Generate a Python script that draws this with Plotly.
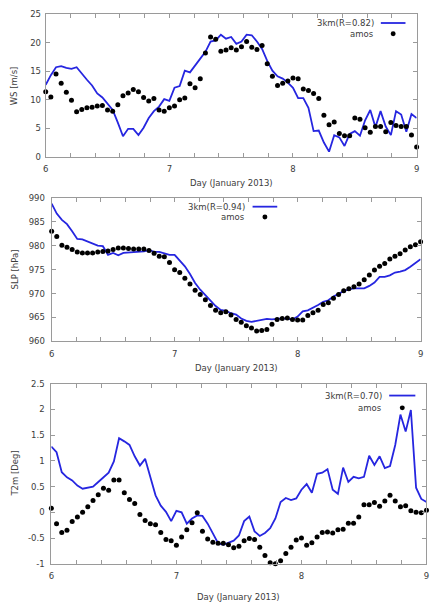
import plotly.graph_objects as go

# ---------------- data (hourly, 6 Jan 00h .. 9 Jan 00h 2013) ----------------
hours = list(range(73))
day = [6 + h / 24 for h in hours]

ws_model = [12.6, 14.3, 15.7, 15.9, 15.6, 15.4, 15.7, 14.5, 13.5, 12.5, 11.1, 10.4, 9.2, 8.2, 6.0, 3.6,
            4.9, 4.9, 3.8, 5.1, 6.8, 8.0, 8.8, 10.1, 9.8,
            12.1, 12.4, 15.1, 14.8, 15.9, 17.2, 18.4, 20.2, 20.4, 21.4, 20.7, 21.0, 19.8, 20.2, 21.4,
            21.3, 20.2, 18.9, 16.8, 15.1, 14.1, 13.7, 13.0, 12.1,
            10.3, 10.3, 8.6, 4.5, 4.6, 2.5, 0.9, 3.8, 3.4, 1.9, 4.0, 4.5, 3.7, 6.4, 8.2, 5.2, 8.0,
            5.3, 3.8, 8.0, 7.4, 4.4, 7.5, 6.8]
ws_obs = [11.4, 10.5, 14.5, 12.9, 11.3, 9.9, 7.9, 8.3, 8.6, 8.7, 8.9, 9.0, 8.2, 8.0, 9.1, 10.7,
          11.2, 11.8, 11.4, 10.4, 9.8, 10.2, 8.2, 8.0, 8.6,
          8.9, 10.0, 10.3, 12.8, 12.1, 13.7, 18.2, 21.0, 20.6, 18.5, 18.7, 19.1, 18.7, 19.3, 20.2,
          19.2, 18.8, 19.5, 16.3, 14.1, 12.5, 12.9, 13.3, 13.8,
          13.7, 11.9, 11.6, 11.1, 10.2, 7.3, 5.6, 6.1, 4.1, 3.7, 3.7, 6.8, 6.6, 5.1, 4.3, 5.3, 5.3,
          4.4, 6.0, 5.5, 5.3, 5.3, 3.8, 1.7]

slp_model = [988.8, 986.7, 985.4, 984.5, 983.0, 981.4, 981.3, 980.9, 980.4, 980.0, 979.9, 978.1,
             978.5, 978.0, 978.5, 978.6, 978.7, 978.8, 978.8, 979.1, 978.7, 978.7, 978.4, 978.1, 978.1,
             977.0, 975.7, 974.1, 972.2, 970.8, 969.6, 968.4, 967.4, 966.6, 966.4, 965.9, 965.6,
             964.8, 964.3, 964.1, 964.3, 964.6, 964.7, 964.6, 964.7, 964.8, 964.7, 964.6, 965.2,
             966.3, 966.5, 967.0, 967.6, 968.3, 968.6, 969.4, 970.0, 970.5, 970.9, 971.1, 971.1,
             971.1, 971.6, 972.3, 973.5, 973.5, 973.8, 974.4, 974.6, 974.9, 975.6, 976.5, 977.2]
slp_obs = [983.0, 981.9, 980.1, 979.7, 979.2, 978.7, 978.5, 978.5, 978.5, 978.7, 978.8, 978.9,
           979.2, 979.5, 979.5, 979.4, 979.3, 979.3, 979.3, 979.0, 978.4, 977.8, 977.7, 976.5, 975.0,
           974.4, 973.2, 972.0, 970.7, 969.8, 968.7, 967.5, 966.5, 966.0, 966.2, 965.5, 964.6,
           964.0, 963.3, 962.8, 962.2, 962.3, 962.5, 963.6, 964.6, 964.8, 964.9, 964.6, 964.5,
           964.5, 965.4, 966.0, 966.5, 967.7, 968.1, 969.0, 969.8, 970.6, 971.0, 971.4, 972.0,
           972.9, 973.9, 974.9, 975.7, 976.3, 977.2, 977.8, 978.3, 979.1, 979.8, 980.2, 980.8]

t2m_model = [1.28, 1.17, 0.78, 0.68, 0.62, 0.52, 0.46, 0.48, 0.50, 0.59, 0.68, 0.77, 0.99, 1.44,
             1.38, 1.31, 1.09, 0.91, 1.04, 0.68, 0.33, 0.13, 0.01, -0.17, 0.03,
             0.00, -0.22, -0.12, -0.06, -0.07, -0.22, -0.41, -0.60, -0.63, -0.59, -0.55, -0.45,
             -0.17, -0.08, -0.37, -0.46, -0.40, -0.31, -0.12, 0.20, 0.28, 0.24, 0.27, 0.44,
             0.55, 0.38, 0.75, 0.77, 0.84, 0.44, 0.36, 0.87, 0.59, 0.69, 0.66, 0.69, 1.10, 0.92,
             1.09, 0.86, 0.90, 1.31, 1.90, 1.57, 1.99, 0.48, 0.26, 0.20]
t2m_obs = [0.08, -0.22, -0.39, -0.35, -0.18, -0.09, 0.00, 0.11, 0.23, 0.34, 0.47, 0.43, 0.63,
           0.63, 0.38, 0.25, 0.17, -0.04, -0.16, -0.22, -0.24, -0.39, -0.53, -0.55, -0.64,
           -0.48, -0.34, -0.20, -0.01, -0.37, -0.52, -0.58, -0.60, -0.60, -0.63, -0.69, -0.66,
           -0.55, -0.51, -0.53, -0.68, -0.84, -0.98, -1.00, -0.94, -0.80, -0.68, -0.54, -0.50,
           -0.64, -0.59, -0.48, -0.39, -0.38, -0.40, -0.34, -0.33, -0.21, -0.21, -0.09, 0.15,
           0.15, 0.19, 0.12, 0.22, 0.33, 0.22, 0.11, 0.13, 0.03, 0.00, -0.01, 0.04]

x_tick_vals = [6, 6.2, 6.4, 6.6, 6.8, 7, 7.2, 7.4, 7.6, 7.8, 8, 8.2, 8.4, 8.6, 8.8, 9]
x_tick_text = ["6", "", "", "", "", "7", "", "", "", "", "8", "", "", "", "", "9"]

ws_ticks = [0, 5, 10, 15, 20, 25]
ws_tick_text = ["0", "5", "10", "15", "20", "25"]
slp_ticks = [960, 965, 970, 975, 980, 985, 990]
slp_tick_text = ["960", "965", "970", "975", "980", "985", "990"]
t2m_ticks = [-1, -0.5, 0, 0.5, 1, 1.5, 2, 2.5]
t2m_tick_text = ["-1", "-0.5", "0", "0.5", "1", "1.5", "2", "2.5"]

legend_model = ["3km(R=0.82)", "3km(R=0.94)", "3km(R=0.70)"]
legend_obs = "amos"
y_titles = ["WS [m/s]", "SLP [hPa]", "T2m [Deg]"]
x_title = "Day (January 2013)"

# ---------------- styling / layout ----------------
W, H = 444, 616
def px(x):
    return x / W
def py(y):
    return 1 - y / H

LINE_COLOR = "#2626e0"
FRAME = "#9a9a9a"
TXT = "#3c3c3c"
FONT = "DejaVu Sans"
FS = 8.5

# pixel boxes of the three panels: (left, right, top, bottom)
boxes = [(43.3, 419.3, 9.3, 154.3), (49.3, 423.3, 196.0, 342.0), (49.0, 429.3, 385.0, 568.0)]
yranges = [[0, 25], [960, 990], [-1, 2.5]]
yticks = [(ws_ticks, ws_tick_text), (slp_ticks, slp_tick_text), (t2m_ticks, t2m_tick_text)]
series = [(ws_model, ws_obs), (slp_model, slp_obs), (t2m_model, t2m_obs)]
# legend geometry: (text right x, row1 y, row2 y, sample x0, sample x1)
legends = [(378, 18.3, 29.3, 383, 408), (247.5, 205.0, 215.5, 253, 278), (386.5, 397.0, 409.5, 391.5, 418)]
xtitle_y = [181, 368.5, 601.5]

fig = go.Figure()
layout = dict(
    width=W, height=H, margin=dict(l=0, r=0, t=0, b=0),
    paper_bgcolor="white", plot_bgcolor="white", showlegend=False,
    font=dict(family=FONT, size=FS, color=TXT),
)
annotations = []
shapes = []

for i in range(3):
    n = "" if i == 0 else str(i + 1)
    xa, ya = "x" + n, "y" + n
    l, r, t, b = boxes[i]
    mod, obs = series[i]
    fig.add_trace(go.Scatter(x=day, y=mod, mode="lines", xaxis=xa, yaxis=ya,
                             line=dict(color=LINE_COLOR, width=1.8), cliponaxis=False))
    fig.add_trace(go.Scatter(x=day, y=obs, mode="markers", xaxis=xa, yaxis=ya,
                             marker=dict(color="black", size=5), cliponaxis=False))
    layout["xaxis" + n] = dict(
        domain=[px(l), px(r)], anchor=ya, range=[6, 9],
        tickmode="array", tickvals=x_tick_vals, ticktext=x_tick_text,
        ticks="inside", ticklen=4, tickwidth=1, tickcolor=FRAME,
        showline=True, linecolor=FRAME, linewidth=1, mirror="ticks",
        showgrid=False, zeroline=False, ticklabelstandoff=4,
        tickfont=dict(family=FONT, size=FS, color=TXT),
    )
    tv, tt = yticks[i]
    layout["yaxis" + n] = dict(
        domain=[py(b), py(t)], anchor=xa, range=yranges[i],
        tickmode="array", tickvals=tv, ticktext=tt,
        ticks="inside", ticklen=4, tickwidth=1, tickcolor=FRAME,
        showline=True, linecolor=FRAME, linewidth=1, mirror="ticks",
        showgrid=False, zeroline=False, ticklabelstandoff=2 if i == 0 else 4,
        tickfont=dict(family=FONT, size=FS, color=TXT),
    )
    # axis titles
    annotations.append(dict(text=y_titles[i], xref="paper", yref="paper",
                            x=px(12), y=py((t + b) / 2), textangle=-90, showarrow=False,
                            xanchor="center", yanchor="middle",
                            font=dict(family=FONT, size=FS, color=TXT)))
    annotations.append(dict(text=x_title, xref="paper", yref="paper",
                            x=px((l + r) / 2), y=py(xtitle_y[i]), showarrow=False,
                            xanchor="center", yanchor="middle",
                            font=dict(family=FONT, size=FS, color=TXT)))
    # legend (gnuplot style: text then sample on the right)
    tx, y1, y2, s0, s1 = legends[i]
    annotations.append(dict(text=legend_model[i], xref="paper", yref="paper",
                            x=px(tx), y=py(y1), showarrow=False, xanchor="right", yanchor="middle",
                            font=dict(family=FONT, size=FS, color=TXT)))
    annotations.append(dict(text=legend_obs, xref="paper", yref="paper",
                            x=px(tx), y=py(y2), showarrow=False, xanchor="right", yanchor="middle",
                            font=dict(family=FONT, size=FS, color=TXT)))
    shapes.append(dict(type="line", xref="paper", yref="paper",
                       x0=px(s0), x1=px(s1), y0=py(y1), y1=py(y1),
                       line=dict(color=LINE_COLOR, width=1.8)))
    cx = (s0 + s1) / 2
    shapes.append(dict(type="circle", xref="paper", yref="paper",
                       x0=px(cx - 2.5), x1=px(cx + 2.5), y0=py(y2 + 2.5), y1=py(y2 - 2.5),
                       fillcolor="black", line=dict(color="black", width=0)))

layout["annotations"] = annotations
layout["shapes"] = shapes
fig.update_layout(**layout)
fig.write_html(
    "out.html",
    config={"displayModeBar": False},
    post_script="document.body.style.margin='0px';document.body.style.overflow='hidden';",
)
